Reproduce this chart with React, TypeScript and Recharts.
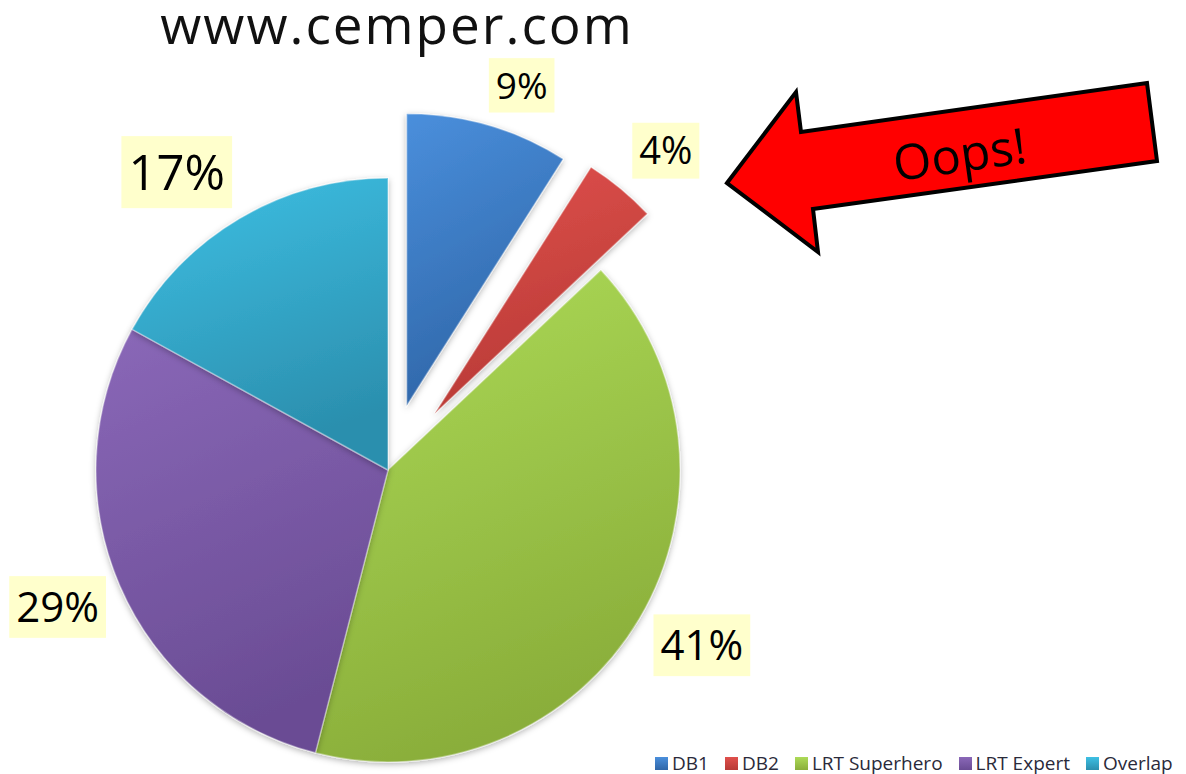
import { PieChart, Pie, Cell, Legend } from "recharts";

const categories = ["DB1", "DB2", "LRT Superhero", "LRT Expert", "Overlap"];
const shares = [9, 4, 41, 29, 17];
// how far each slice is pulled out of the pie (px)
const explode = [67, 73, 0, 0, 0];

const colorsTop = ["#4a8fdc", "#e0504c", "#addb58", "#8a68b8", "#3ec0e4"];
const colorsBottom = ["#2f66a8", "#b83a36", "#8aae3a", "#6a4c94", "#2b8fae"];

// label tweaks (Excel does not put labels exactly on the bisector)
const labelFont = [37, 38, 42, 42, 49];
const labelShift = [
  [19, 10],
  [12, 2],
  [4, -8],
  [0, -6],
  [-28, 12],
];

const CX = 388;
const CY = 470;
const R = 292;
const RADIAN = Math.PI / 180;

const data = categories.map((name, i) => ({ name, value: shares[i] }));
const total = shares.reduce((a, b) => a + b, 0);

function offsetFor(i: number) {
  const before = shares.slice(0, i).reduce((a, b) => a + b, 0);
  const mid = ((before + shares[i] / 2) / total) * 360;
  return {
    dx: explode[i] * Math.sin(mid * RADIAN),
    dy: -explode[i] * Math.cos(mid * RADIAN),
  };
}

// group 0 = the slices that stay in place, the others = one pie per exploded slice
const groups: number[][] = [
  categories.map((_, i) => i).filter((i) => explode[i] === 0),
  ...categories.map((_, i) => i).filter((i) => explode[i] > 0).map((i) => [i]),
];

const makeLabel = (visible: number[], gap: number) => (props: any) => {
  const { cx, cy, midAngle, outerRadius, index, percent } = props;
  if (!visible.includes(index)) return null;
  const r = outerRadius + gap;
  const x = cx + r * Math.cos(-midAngle * RADIAN) + labelShift[index][0];
  const y = cy + r * Math.sin(-midAngle * RADIAN) + labelShift[index][1];
  const txt = `${Math.round(percent * 100)}%`;
  const fs = labelFont[index];
  const w = fs * (0.572 * (txt.length - 1) + 0.85) + 13;
  const h = fs * 1.47;
  return (
    <g>
      <rect x={x - w / 2} y={y - h / 2} width={w} height={h} fill="#ffffcc" />
      <text
        x={x}
        y={y + fs * 0.36}
        textAnchor="middle"
        fontSize={fs}
        fontFamily="'Open Sans', sans-serif"
        fill="#000"
      >
        {txt}
      </text>
    </g>
  );
};

function SliceLegend() {
  return (
    <div
      style={{
        display: "flex",
        flexWrap: "nowrap",
        whiteSpace: "nowrap",
        alignItems: "center",
        fontFamily: "'Open Sans', sans-serif",
        fontSize: 19,
        lineHeight: "26px",
        color: "#2a2a3a",
      }}
    >
      {categories.map((c, i) => (
        <div key={c} style={{ display: "flex", alignItems: "center", marginRight: 16, flexShrink: 0 }}>
          <span
            style={{
              display: "inline-block",
              width: 13,
              height: 13,
              marginRight: 4,
              background: `linear-gradient(${colorsTop[i]}, ${colorsBottom[i]})`,
            }}
          />
          <span>{c}</span>
        </div>
      ))}
    </div>
  );
}

export default function App() {
  return (
    <div style={{ position: "absolute", left: 0, top: 0, width: 1186, height: 774, background: "#fff" }}>
      <PieChart width={1186} height={774} margin={{ top: 0, right: 0, bottom: 0, left: 0 }}>
        <defs>
          {categories.map((c, i) => (
            <linearGradient key={c} id={`slice${i}`} x1="0" y1="0" x2="0.3" y2="1">
              <stop offset="0%" stopColor={colorsTop[i]} />
              <stop offset="100%" stopColor={colorsBottom[i]} />
            </linearGradient>
          ))}
          <filter id="soft" x="-10%" y="-10%" width="120%" height="120%">
            <feDropShadow dx="0" dy="2" stdDeviation="3" floodColor="#000" floodOpacity="0.3" />
          </filter>
        </defs>
        {groups.map((visible, g) => {
          const off = g === 0 ? { dx: 0, dy: 0 } : offsetFor(visible[0]);
          return (
            <Pie
              key={g}
              data={data}
              dataKey="value"
              nameKey="name"
              cx={CX + off.dx}
              cy={CY + off.dy}
              outerRadius={R}
              startAngle={90}
              endAngle={-270}
              legendType="none"
              labelLine={false}
              label={makeLabel(visible, g === 0 ? 68 : 52)}
              isAnimationActive={false}
            >
              {data.map((d, i) => (
                <Cell
                  key={d.name}
                  fill={visible.includes(i) ? `url(#slice${i})` : "transparent"}
                  stroke={visible.includes(i) ? "rgba(255,255,255,0.35)" : "none"}
                  strokeWidth={1.5}
                  filter={visible.includes(i) ? "url(#soft)" : undefined}
                />
              ))}
            </Pie>
          );
        })}
        <Legend
          content={() => <SliceLegend />}
          wrapperStyle={{ position: "absolute", left: 655, top: 750, width: 531, bottom: "auto" }}
        />
      </PieChart>
      <svg
        width={1186}
        height={774}
        style={{ position: "absolute", left: 0, top: 0, pointerEvents: "none" }}
      >
        <text
          x={397}
          y={44}
          textAnchor="middle"
          fontSize={53}
          letterSpacing={2}
          fontFamily="'Open Sans', sans-serif"
          fill="#111"
        >
          www.cemper.com
        </text>
        <polygon
          points="727,183 796,92 801,132 1147,83 1157,161 813,209 818,252"
          fill="#ff0000"
          stroke="#000"
          strokeWidth={4}
          strokeLinejoin="miter"
        />
        <text
          x={960}
          y={172}
          textAnchor="middle"
          fontSize={49}
          fontFamily="'Open Sans', sans-serif"
          fill="#000"
          transform="rotate(-8 960 158)"
        >
          Oops!
        </text>
      </svg>
    </div>
  );
}
